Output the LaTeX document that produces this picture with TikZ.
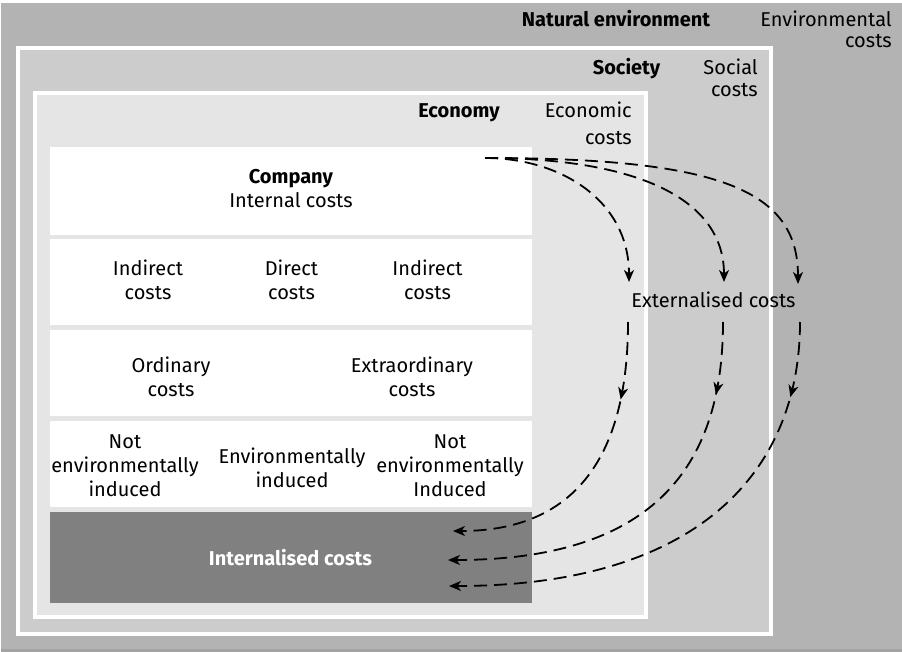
\documentclass[tikz,border=0pt]{standalone}
\usepackage{fontspec}
\setmainfont{Fira Sans}
\usetikzlibrary{arrows.meta,decorations.markings}
\definecolor{envgray}{HTML}{B3B3B3}
\definecolor{envline}{HTML}{A3A3A3}
\definecolor{socgray}{HTML}{CCCCCC}
\definecolor{ecogray}{HTML}{E5E5E5}
\definecolor{intgray}{HTML}{808080}
\tikzset{
  tip/.tip={Stealth[length=12pt,width=10pt,inset=3.5pt]},
  lbl/.style={inner sep=0pt, align=center, anchor=base, font=\fontsize{20}{24}\selectfont},
  rlbl/.style={inner sep=0pt, align=right, anchor=base east},
  bld/.style={font=\fontsize{20}{24}\selectfont\bfseries},
  rowbox/.style={fill=white},
  extarrow/.style={line width=1.8pt, dash pattern=on 13pt off 7pt, -tip},
  midtip/.style={decoration={markings, mark=at position #1 with {\arrow{tip}}}, postaction={decorate}}
}
\begin{document}
\begin{tikzpicture}[x=1pt,y=-1pt]
\useasboundingbox (0,0) rectangle (902,652);
% natural environment background
\fill[envgray] (1,3) rectangle (902,652);
\fill[envline] (1,649) rectangle (902,652);
% society
\fill[white] (16,46) rectangle (773,636);
\fill[socgray] (20,50) rectangle (769,632);
% economy
\fill[white] (33,91) rectangle (648,619);
\fill[ecogray] (37,95) rectangle (644,615);
% company rows
\fill[rowbox] (49.5,147) rectangle (532,235);
\fill[rowbox] (49.5,239) rectangle (532,325);
\fill[rowbox] (49.5,330) rectangle (532,416);
\fill[rowbox] (49.5,421) rectangle (532,507);
\fill[intgray] (49.5,512) rectangle (532,603);

% labels (base anchor = baseline of the last line)
\node[lbl,bld] (natenv) at (616,27) {Natural environment};
\node[lbl,rlbl,font=\fontsize{20}{21}\selectfont] (envcost) at (892,48) {Environmental\\costs};
\node[lbl,bld] (society) at (626.5,75) {Society};
\node[lbl,rlbl,font=\fontsize{20}{22}\selectfont] (soccost) at (758,97) {Social\\costs};
\node[lbl,bld] (economy) at (459,118) {Economy};
\node[lbl,rlbl,font=\fontsize{20}{27}\selectfont] (ecocost) at (632,145) {Economic\\costs};
\node[lbl] (company) at (291,208) {\textbf{Company}\\Internal costs};
\node[lbl] (indir1) at (148,299) {Indirect\\costs};
\node[lbl] (direct) at (291.5,299) {Direct\\costs};
\node[lbl] (indir2) at (427.5,299) {Indirect\\costs};
\node[lbl] (ordin) at (171,396) {Ordinary\\costs};
\node[lbl] (extraord) at (412,396) {Extraordinary\\costs};
\node[lbl] (notenv1) at (125,496) {Not\\environmentally\\induced};
\node[lbl] (envind) at (292,487) {Environmentally\\induced};
\node[lbl] (notenv2) at (450,496) {Not\\environmentally\\Induced};
\node[lbl,bld,text=white] (internal) at (290.5,565) {Internalised costs};
\node[lbl] (external) at (713.5,308) {Externalised costs};

% connector anchors
\coordinate (src) at (485,158);
\coordinate (t1) at (629,282);
\coordinate (t2) at (724,282);
\coordinate (t3) at (798,284);
\coordinate (s1) at (628,322);
\coordinate (s2) at (723,322);
\coordinate (s3) at (800,322);
\coordinate (e1) at (453,531);
\coordinate (e2) at (448,560);
\coordinate (e3) at (449,586);

% upper dashed arrows
\draw[extarrow] (src) .. controls (560,158) and (629,200) .. (t1);
\draw[extarrow] (src) .. controls (640,158) and (724,200) .. (t2);
\draw[extarrow] (src) .. controls (720,158) and (798,190) .. (t3);
% lower dashed arrows
\draw[extarrow, midtip=78pt] (s1) .. controls (628,450) and (580,531) .. (e1);
\draw[extarrow, midtip=73pt] (s2) .. controls (723,470) and (650,560) .. (e2);
\draw[extarrow, midtip=76pt] (s3) .. controls (800,470) and (700,586) .. (e3);
\end{tikzpicture}
\end{document}
